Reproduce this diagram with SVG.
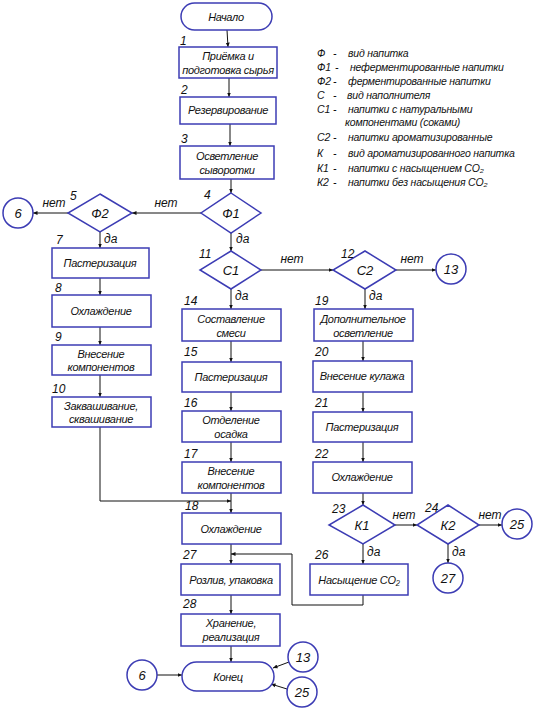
<svg xmlns="http://www.w3.org/2000/svg" width="536" height="711" viewBox="0 0 536 711">
<style>
.b{fill:#fff;stroke:#3c3cb4;stroke-width:1.5}
.c{fill:none;stroke:#111;stroke-width:1}
text{font-family:"Liberation Sans",Arial,sans-serif;font-style:italic;fill:#111}
.t{font-size:11px;text-anchor:middle;letter-spacing:-0.3px}
.n{font-size:12px}
.l{font-size:10.5px;letter-spacing:-0.2px}
.k{font-size:13px;text-anchor:middle}
.d{font-size:13px;text-anchor:middle}
</style>
<defs>
<marker id="a" markerWidth="5" markerHeight="5" refX="4.5" refY="2.5" orient="auto" markerUnits="userSpaceOnUse">
<path d="M0,0.5 L4.5,2.5 L0,4.5 z" fill="#111"/>
</marker>
</defs>
<rect width="536" height="711" fill="#fff"/>

<g id="legend" class="l">
<text x="317" y="57">Ф</text><text x="333" y="57">-</text><text x="348" y="57">вид напитка</text>
<text x="317" y="71">Ф1</text><text x="335" y="71">-</text><text x="350" y="71">неферментированные напитки</text>
<text x="317" y="85">Ф2</text><text x="333" y="85">-</text><text x="348" y="85">ферментированные напитки</text>
<text x="317" y="99">С</text><text x="333" y="99">-</text><text x="347" y="99">вид наполнителя</text>
<text x="317" y="113">С1</text><text x="333" y="113">-</text><text x="348" y="113">напитки с натуральными</text>
<text x="345" y="126">компонентами (соками)</text>
<text x="317" y="141">С2</text><text x="333" y="141">-</text><text x="348" y="141">напитки ароматизированные</text>
<text x="317" y="157">К</text><text x="333" y="157">-</text><text x="348" y="157">вид ароматизированного напитка</text>
<text x="317" y="172">К1</text><text x="333" y="172">-</text><text x="348" y="172">напитки с насыщением CO₂</text>
<text x="317" y="186">К2</text><text x="333" y="186">-</text><text x="348" y="186">напитки без насыщения CO₂</text>
</g>

<g id="connectors" class="c">
<line x1="227" y1="30" x2="228" y2="47" marker-end="url(#a)"/>
<line x1="229" y1="78" x2="229" y2="97" marker-end="url(#a)"/>
<line x1="230" y1="124" x2="230" y2="146" marker-end="url(#a)"/>
<line x1="231" y1="179" x2="231" y2="193" marker-end="url(#a)"/>
<line x1="201" y1="213" x2="132" y2="213" marker-end="url(#a)"/>
<line x1="68" y1="213" x2="33" y2="213" marker-end="url(#a)"/>
<line x1="100" y1="232" x2="100" y2="248" marker-end="url(#a)"/>
<line x1="100" y1="278" x2="100" y2="295" marker-end="url(#a)"/>
<line x1="100" y1="327" x2="100" y2="345" marker-end="url(#a)"/>
<line x1="100" y1="375" x2="100" y2="397" marker-end="url(#a)"/>
<polyline points="100,427 100,501 231,501" marker-end="url(#a)"/>
<line x1="231" y1="233" x2="231" y2="251" marker-end="url(#a)"/>
<line x1="261" y1="270" x2="333" y2="270" marker-end="url(#a)"/>
<line x1="396" y1="270" x2="436" y2="270" marker-end="url(#a)"/>
<line x1="231" y1="289" x2="231" y2="309" marker-end="url(#a)"/>
<line x1="365" y1="289" x2="365" y2="309" marker-end="url(#a)"/>
<line x1="231" y1="341" x2="231" y2="362" marker-end="url(#a)"/>
<line x1="231" y1="392" x2="231" y2="411" marker-end="url(#a)"/>
<line x1="231" y1="442" x2="231" y2="462" marker-end="url(#a)"/>
<line x1="231" y1="493" x2="231" y2="513" marker-end="url(#a)"/>
<line x1="363" y1="341" x2="363" y2="361" marker-end="url(#a)"/>
<line x1="363" y1="392" x2="363" y2="412" marker-end="url(#a)"/>
<line x1="363" y1="442" x2="363" y2="462" marker-end="url(#a)"/>
<line x1="363" y1="493" x2="363" y2="505" marker-end="url(#a)"/>
<line x1="395" y1="525" x2="417" y2="525" marker-end="url(#a)"/>
<line x1="479" y1="525" x2="502" y2="525" marker-end="url(#a)"/>
<line x1="448" y1="544" x2="448" y2="563" marker-end="url(#a)"/>
<line x1="363" y1="544" x2="363" y2="564" marker-end="url(#a)"/>
<polyline points="363,595 363,605 292,605 292,554 231,554" marker-end="url(#a)"/>
<line x1="231" y1="544" x2="231" y2="564" marker-end="url(#a)"/>
<line x1="231" y1="595" x2="231" y2="614" marker-end="url(#a)"/>
<line x1="231" y1="646" x2="231" y2="662" marker-end="url(#a)"/>
<line x1="157" y1="675" x2="182" y2="675" marker-end="url(#a)"/>
<line x1="289" y1="662" x2="273" y2="668" marker-end="url(#a)"/>
<line x1="287" y1="689" x2="271" y2="684" marker-end="url(#a)"/>
</g>

<g id="edge-labels" class="n">
<text x="166" y="207" text-anchor="middle">нет</text>
<text x="54" y="207" text-anchor="middle">нет</text>
<text x="236" y="243">да</text>
<text x="104" y="243">да</text>
<text x="292" y="263" text-anchor="middle">нет</text>
<text x="412" y="263" text-anchor="middle">нет</text>
<text x="235" y="300">да</text>
<text x="369" y="300">да</text>
<text x="404" y="519" text-anchor="middle">нет</text>
<text x="490" y="519" text-anchor="middle">нет</text>
<text x="452" y="556">да</text>
<text x="367" y="556">да</text>
</g>

<g id="start"><rect class="b" x="181" y="3" width="91" height="27" rx="13.5"/><text class="t" x="226" y="21">Начало</text></g>
<g id="n1"><rect class="b" x="179" y="47" width="98" height="31"/><text class="n" x="180" y="45">1</text><text class="t" x="228" y="60">Приёмка и</text><text class="t" x="228" y="74">подготовка сырья</text></g>
<g id="n2"><rect class="b" x="180" y="97" width="96" height="27"/><text class="n" x="181" y="94">2</text><text class="t" x="228" y="114">Резервирование</text></g>
<g id="n3"><rect class="b" x="180" y="146" width="94" height="33"/><text class="n" x="181" y="143">3</text><text class="t" x="227" y="160">Осветление</text><text class="t" x="227" y="174">сыворотки</text></g>
<g id="n4"><polygon class="b" points="231,193 261,213 231,233 201,213"/><text class="n" x="204" y="199">4</text><text class="k" x="231" y="218">Ф1</text></g>
<g id="n5"><polygon class="b" points="100,194 132,213 100,232 68,213"/><text class="n" x="70" y="200">5</text><text class="k" x="100" y="218">Ф2</text></g>
<g id="c6a"><circle class="b" cx="18" cy="213" r="15"/><text class="d" x="18" y="218">6</text></g>
<g id="n7"><rect class="b" x="52" y="248" width="97" height="30"/><text class="n" x="56" y="244">7</text><text class="t" x="100" y="267">Пастеризация</text></g>
<g id="n8"><rect class="b" x="52" y="295" width="99" height="32"/><text class="n" x="55" y="292">8</text><text class="t" x="101" y="315">Охлаждение</text></g>
<g id="n9"><rect class="b" x="52" y="345" width="99" height="30"/><text class="n" x="55" y="341">9</text><text class="t" x="101" y="358">Внесение</text><text class="t" x="101" y="371">компонентов</text></g>
<g id="n10"><rect class="b" x="52" y="397" width="99" height="30"/><text class="n" x="52" y="393">10</text><text class="t" x="101" y="410">Заквашивание,</text><text class="t" x="101" y="423">сквашивание</text></g>
<g id="n11"><polygon class="b" points="231,251 261,270 231,289 200,270"/><text class="n" x="199" y="258">11</text><text class="k" x="231" y="275">С1</text></g>
<g id="n12"><polygon class="b" points="365,251 396,270 365,289 333,270"/><text class="n" x="341" y="258">12</text><text class="k" x="365" y="275">С2</text></g>
<g id="c13a"><circle class="b" cx="451" cy="269" r="15"/><text class="d" x="451" y="274">13</text></g>
<g id="n14"><rect class="b" x="182" y="309" width="99" height="32"/><text class="n" x="184" y="305">14</text><text class="t" x="231" y="323">Составление</text><text class="t" x="231" y="337">смеси</text></g>
<g id="n15"><rect class="b" x="182" y="362" width="99" height="30"/><text class="n" x="184" y="356">15</text><text class="t" x="231" y="381">Пастеризация</text></g>
<g id="n16"><rect class="b" x="182" y="411" width="99" height="31"/><text class="n" x="184" y="407">16</text><text class="t" x="231" y="424">Отделение</text><text class="t" x="231" y="438">осадка</text></g>
<g id="n17"><rect class="b" x="182" y="462" width="99" height="31"/><text class="n" x="184" y="458">17</text><text class="t" x="231" y="475">Внесение</text><text class="t" x="231" y="489">компонентов</text></g>
<g id="n18"><rect class="b" x="182" y="513" width="99" height="31"/><text class="n" x="185" y="510">18</text><text class="t" x="231" y="533">Охлаждение</text></g>
<g id="n19"><rect class="b" x="314" y="309" width="99" height="32"/><text class="n" x="315" y="305">19</text><text class="t" x="363" y="323">Дополнительное</text><text class="t" x="363" y="337">осветление</text></g>
<g id="n20"><rect class="b" x="313" y="361" width="99" height="31"/><text class="n" x="315" y="356">20</text><text class="t" x="362" y="380">Внесение кулажа</text></g>
<g id="n21"><rect class="b" x="313" y="412" width="99" height="30"/><text class="n" x="315" y="407">21</text><text class="t" x="362" y="431">Пастеризация</text></g>
<g id="n22"><rect class="b" x="313" y="462" width="99" height="31"/><text class="n" x="315" y="458">22</text><text class="t" x="362" y="481">Охлаждение</text></g>
<g id="n23"><polygon class="b" points="363,505 395,525 363,544 329,525"/><text class="n" x="332" y="513">23</text><text class="k" x="362" y="530">К1</text></g>
<g id="n24"><polygon class="b" points="448,505 479,525 448,544 417,525"/><text class="n" x="425" y="512">24</text><text class="k" x="448" y="530">К2</text></g>
<g id="c25a"><circle class="b" cx="517" cy="524" r="15"/><text class="d" x="517" y="529">25</text></g>
<g id="c27"><circle class="b" cx="448" cy="578" r="15"/><text class="d" x="448" y="583">27</text></g>
<g id="n26"><rect class="b" x="310" y="564" width="98" height="31"/><text class="n" x="315" y="559">26</text><text class="t" x="359" y="584">Насыщение CO₂</text></g>
<g id="n27"><rect class="b" x="181" y="564" width="99" height="31"/><text class="n" x="183" y="559">27</text><text class="t" x="231" y="584">Розлив, упаковка</text></g>
<g id="n28"><rect class="b" x="181" y="614" width="99" height="32"/><text class="n" x="183" y="608">28</text><text class="t" x="231" y="627">Хранение,</text><text class="t" x="231" y="641">реализация</text></g>
<g id="end"><rect class="b" x="182" y="662" width="92" height="29" rx="14.5"/><text class="t" x="228" y="681">Конец</text></g>
<g id="c6b"><circle class="b" cx="142" cy="675" r="15"/><text class="d" x="142" y="680">6</text></g>
<g id="c13b"><circle class="b" cx="303" cy="657" r="15"/><text class="d" x="303" y="662">13</text></g>
<g id="c25b"><circle class="b" cx="302" cy="692" r="15"/><text class="d" x="302" y="697">25</text></g>
</svg>
